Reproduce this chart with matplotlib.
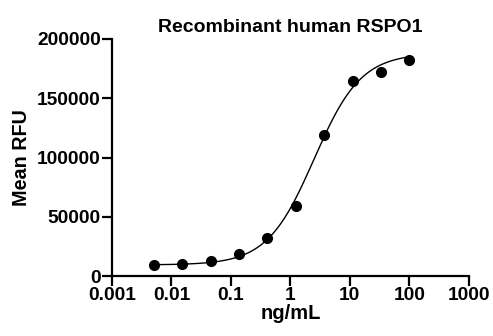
import numpy as np
import matplotlib
matplotlib.use("Agg")
import matplotlib.pyplot as plt
from matplotlib.ticker import FixedLocator, NullLocator

plt.rcParams['font.family'] = ['Liberation Sans', 'DejaVu Sans']
plt.rcParams['font.weight'] = 'bold'

# measured points (3-fold dilution series)
conc = [0.00508, 0.0152, 0.0457, 0.137, 0.412, 1.23, 3.70, 11.1, 33.3, 100]
rfu = [9500, 10600, 12650, 18800, 32300, 59600, 119200, 164800, 171800, 181900]

# 4PL fit parameters
bottom = 9500
top = 188000
ec50 = 2.5
hill = 1.1

xticks = [0.001, 0.01, 0.1, 1, 10, 100, 1000]
xticklabels = ['0.001', '0.01', '0.1', '1', '10', '100', '1000']
yticks = [0, 50000, 100000, 150000, 200000]

fig = plt.figure(figsize=(4.93, 3.36), dpi=100)
ax = fig.add_axes([0.227, 0.178, 0.724, 0.706])

xs = np.logspace(np.log10(conc[0]), np.log10(conc[-1]), 300)
fit = bottom + (top - bottom) / (1 + (ec50 / xs) ** hill)
ax.plot(xs, fit, color='black', lw=1.0)
ax.plot(conc, rfu, 'o', color='black', ms=7)

ax.set_xscale('log')
ax.set_xlim(0.001, 1000)
ax.set_ylim(0, 200000)
ax.xaxis.set_major_locator(FixedLocator(xticks))
ax.xaxis.set_minor_locator(NullLocator())
ax.set_xticklabels(xticklabels)
ax.set_yticks(yticks)
ax.set_yticklabels([str(v) for v in yticks])

for s in ['top', 'right']:
    ax.spines[s].set_visible(False)
for s in ['left', 'bottom']:
    ax.spines[s].set_linewidth(1.6)
ax.tick_params(width=1.6, length=7.5, pad=0.5, labelsize=13.8)

ax.set_title('Recombinant human RSPO1', fontsize=14, fontweight='bold', pad=5)
ax.set_xlabel('ng/mL', fontsize=14.5, fontweight='bold', labelpad=0)
ax.set_ylabel('Mean RFU', fontsize=14.2, fontweight='bold', labelpad=4)

fig.savefig('out.png', dpi=100)
